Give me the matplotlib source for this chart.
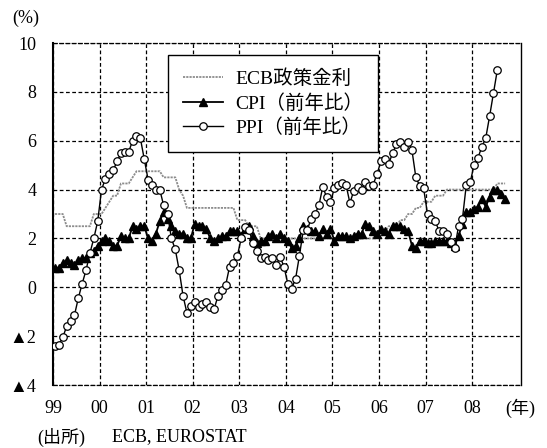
import numpy as np
import matplotlib
matplotlib.use("Agg")
import matplotlib.pyplot as plt

# 月次データ（1999年1月から）
ecb_rate = [
    3.0, 3.0, 3.0, 2.5, 2.5, 2.5, 2.5, 2.5, 2.5, 2.5, 3.0, 3.0,            # 1999
    3.0, 3.25, 3.5, 3.75, 3.75, 4.25, 4.25, 4.25, 4.5, 4.75, 4.75, 4.75,   # 2000
    4.75, 4.75, 4.75, 4.75, 4.5, 4.5, 4.5, 4.5, 4.0, 3.75, 3.25, 3.25,     # 2001
    3.25, 3.25, 3.25, 3.25, 3.25, 3.25, 3.25, 3.25, 3.25, 3.25, 3.25, 2.75,  # 2002
    2.75, 2.75, 2.5, 2.5, 2.5, 2.0, 2.0, 2.0, 2.0, 2.0, 2.0, 2.0,          # 2003
    2.0, 2.0, 2.0, 2.0, 2.0, 2.0, 2.0, 2.0, 2.0, 2.0, 2.0, 2.0,            # 2004
    2.0, 2.0, 2.0, 2.0, 2.0, 2.0, 2.0, 2.0, 2.0, 2.0, 2.0, 2.25,           # 2005
    2.25, 2.25, 2.5, 2.5, 2.5, 2.75, 2.75, 3.0, 3.0, 3.25, 3.25, 3.5,      # 2006
    3.5, 3.5, 3.75, 3.75, 3.75, 4.0, 4.0, 4.0, 4.0, 4.0, 4.0, 4.0,         # 2007
    4.0, 4.0, 4.0, 4.0, 4.0, 4.0, 4.25, 4.25, 4.25,                        # 2008
]

cpi_yoy = [
    0.8, 0.8, 1.0, 1.1, 1.0, 0.9, 1.1, 1.2, 1.2, 1.4, 1.5, 1.7,
    1.9, 2.0, 1.9, 1.7, 1.7, 2.1, 2.0, 2.0, 2.5, 2.4, 2.5, 2.5,
    2.0, 1.9, 2.2, 2.7, 3.1, 2.8, 2.5, 2.3, 2.2, 2.2, 2.0, 2.0,
    2.6, 2.5, 2.5, 2.4, 2.0, 1.9, 2.0, 2.1, 2.1, 2.3, 2.3, 2.3,
    2.1, 2.4, 2.5, 2.1, 1.8, 1.9, 1.9, 2.1, 2.2, 2.0, 2.2, 2.0,
    1.9, 1.6, 1.7, 2.0, 2.5, 2.4, 2.3, 2.3, 2.1, 2.4, 2.2, 2.4,
    1.9, 2.1, 2.1, 2.1, 2.0, 2.1, 2.2, 2.2, 2.6, 2.5, 2.3, 2.2,
    2.4, 2.3, 2.2, 2.5, 2.5, 2.5, 2.4, 2.3, 1.7, 1.6, 1.9, 1.9,
    1.8, 1.8, 1.9, 1.9, 1.9, 1.9, 1.8, 1.7, 2.1, 2.6, 3.1, 3.1,
    3.2, 3.3, 3.6, 3.3, 3.7, 4.0, 4.0, 3.8, 3.6,
]

ppi_yoy = [
    -2.4, -2.35, -2.05, -1.6, -1.4, -1.15, -0.45, 0.15, 0.7, 1.4, 2.0, 2.7,
    4.0, 4.45, 4.65, 4.8, 5.15, 5.5, 5.55, 5.55, 6.0, 6.2, 6.1, 5.25,
    4.4, 4.2, 4.0, 4.0, 3.35, 3.0, 2.0, 1.55, 0.7, -0.35, -1.05, -0.75,
    -0.6, -0.8, -0.7, -0.6, -0.8, -0.9, -0.35, -0.1, 0.1, 0.85, 1.0, 1.3,
    2.0, 2.45, 2.35, 1.8, 1.5, 1.2, 1.25, 1.1, 1.2, 0.9, 1.25, 0.85,
    0.15, -0.05, 0.35, 1.3, 2.35, 2.35, 2.8, 3.0, 3.35, 4.1, 3.7, 3.5,
    4.05, 4.2, 4.25, 4.2, 3.45, 3.95, 4.1, 4.0, 4.3, 4.15, 4.2, 4.65,
    5.15, 5.25, 5.05, 5.5, 5.85, 5.95, 5.75, 5.95, 5.6, 4.5, 4.15, 4.05,
    3.0, 2.8, 2.7, 2.3, 2.3, 2.2, 1.85, 1.6, 2.5, 2.8, 4.2, 4.3,
    5.0, 5.3, 5.75, 6.1, 7.0, 7.95, 8.9,
]

year_ticks = list(range(1999, 2009))
year_labels = ["99", "00", "01", "02", "03", "04", "05", "06", "07", "08"]
y_ticks = [10, 8, 6, 4, 2, 0, -2, -4]
y_labels = ["10", "8", "6", "4", "2", "0", "▲2", "▲4"]

plt.rcParams["font.family"] = ["Liberation Serif", "Noto Sans CJK JP", "DejaVu Sans"]
FS = 13


def month_axis(values):
    # 各月の中央に点を置く
    return 1999 + (np.arange(len(values)) + 0.5) / 12


fig = plt.figure(figsize=(5.47, 4.48), dpi=100)
ax = fig.add_axes([0.097, 0.1406, 0.8555, 0.7634])

ax.plot(month_axis(ecb_rate), ecb_rate, color="#8c8c8c", lw=1.3,
        ls=(0, (1.2, 0.6)), label="ECB政策金利", zorder=3)
ax.plot(month_axis(cpi_yoy), cpi_yoy, color="black", lw=1.3, marker="^",
        ms=6, label="CPI（前年比）", zorder=4)
ax.plot(month_axis(ppi_yoy), ppi_yoy, color="black", lw=1.0, marker="o",
        ms=5.4, mfc="white", mec="black", mew=0.9, label="PPI（前年比）", zorder=5)

ax.set_xlim(1999, 2009.05)
ax.set_ylim(-4, 10)
ax.set_xticks(year_ticks)
ax.set_xticklabels(year_labels, fontsize=FS)
ax.set_yticks(y_ticks)
ax.set_yticklabels(y_labels, fontsize=FS)
ax.tick_params(axis="x", length=0, pad=11)
ax.tick_params(axis="y", length=0, pad=12)

ax.grid(True, color="black", lw=0.9, ls=(0, (3, 2)))
ax.set_axisbelow(True)

ax.spines["left"].set_linewidth(1.5)
ax.spines["right"].set_linewidth(1.0)
for side in ("top", "bottom"):
    ax.spines[side].set_linewidth(0.9)
    ax.spines[side].set_linestyle((0, (3, 2)))

leg = ax.legend(loc="upper left", bbox_to_anchor=(0.2457, 0.965), fontsize=14,
                frameon=True, fancybox=False, edgecolor="black", framealpha=1,
                handlelength=2.1, borderpad=0.75, labelspacing=0.3,
                handletextpad=0.6, borderaxespad=0)
leg.get_frame().set_linewidth(1.0)

fig.text(12 / 547, 1 - 18 / 448, "(%)", fontsize=FS, va="center", ha="left")
fig.text(520 / 547, 1 - 408 / 448, "(年)", fontsize=FS, va="center", ha="center")
fig.text(37 / 547, 1 - 437 / 448, "(出所)", fontsize=FS, va="center", ha="left")
fig.text(112 / 547, 1 - 437 / 448, "ECB, EUROSTAT", fontsize=FS,
         va="center", ha="left")

fig.savefig("out.png", dpi=100)
